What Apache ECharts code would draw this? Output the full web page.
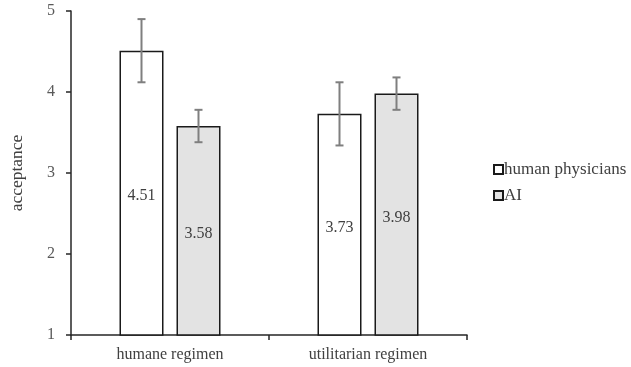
<!DOCTYPE html>
<html><head><meta charset="utf-8">
<script src="https://cdn.jsdelivr.net/npm/echarts@6/dist/echarts.min.js"></script>
<style>html,body{margin:0;padding:0;background:#fff}#c{width:631px;height:367px}</style>
</head><body><div id="c"></div>
<script>
const categories = ['humane regimen', 'utilitarian regimen'];
const seriesNames = ['human physicians', 'AI'];
const humanValues = [4.51, 3.73];
const aiValues = [3.58, 3.98];
const humanErr = [0.39, 0.39];
const aiErr = [0.20, 0.20];
const yTicks = [1, 2, 3, 4, 5];

const FONT = '"Liberation Serif", "Times New Roman", serif';
const BAR_W = 44;
const GAP = 13;
const chart = echarts.init(document.getElementById('c'), null, {renderer: 'canvas'});

function errSeries(vals, errs, dir) {
  return {
    type: 'custom',
    silent: true,
    z: 10,
    data: vals.map((v, i) => [i, v, errs[i]]),
    renderItem: function (params, api) {
      const i = api.value(0), v = api.value(1), e = api.value(2);
      const top = api.coord([i, v + e]);
      const bot = api.coord([i, v - e]);
      const x = top[0] + dir * (BAR_W + GAP) / 2;
      const cap = 4;
      const st = {stroke: '#7f7f7f', lineWidth: 2};
      return {type: 'group', children: [
        {type: 'line', shape: {x1: x, y1: top[1], x2: x, y2: bot[1]}, style: st},
        {type: 'line', shape: {x1: x - cap, y1: top[1], x2: x + cap, y2: top[1]}, style: st},
        {type: 'line', shape: {x1: x - cap, y1: bot[1], x2: x + cap, y2: bot[1]}, style: st}
      ]};
    }
  };
}

const labelStyle = {show: true, position: 'inside', offset: [0, 3], fontFamily: FONT, fontSize: 16, color: '#404040',
  formatter: p => p.value.toFixed(2)};

chart.setOption({
  animation: false,
  textStyle: {fontFamily: FONT},
  grid: {left: 69, right: 164, top: 11, bottom: 32, containLabel: false},
  legend: {
    orient: 'vertical', left: 488, top: 156, itemGap: 9,
    itemWidth: 9, itemHeight: 9, icon: 'rect',
    textStyle: {fontFamily: FONT, fontSize: 17, color: '#404040', padding: [0, 0, 0, -4]},
    data: seriesNames
  },
  xAxis: {
    type: 'category', data: categories, boundaryGap: true,
    axisLine: {lineStyle: {color: '#262626', width: 1.5}},
    axisTick: {show: true, length: 5, lineStyle: {color: '#262626', width: 1.5}},
    axisLabel: {fontFamily: FONT, fontSize: 16, color: '#404040', margin: 12}
  },
  yAxis: {
    type: 'value', min: 1, max: 5, interval: 1,
    name: 'acceptance', nameLocation: 'middle', nameGap: 45, nameRotate: 90,
    nameTextStyle: {fontFamily: FONT, fontSize: 17.5, color: '#404040'},
    splitLine: {show: false},
    axisLine: {show: true, lineStyle: {color: '#262626', width: 1.5}},
    axisTick: {show: true, length: 5, lineStyle: {color: '#262626', width: 1.5}},
    axisLabel: {fontFamily: FONT, fontSize: 16, color: '#595959', margin: 16,
      formatter: v => yTicks.includes(v) ? String(v) : ''}
  },
  series: [
    {name: seriesNames[0], type: 'bar', data: humanValues, barWidth: BAR_W, barGap: (GAP / BAR_W * 100) + '%',
      itemStyle: {color: '#ffffff', borderColor: '#1a1a1a', borderWidth: 1.5}, label: labelStyle},
    {name: seriesNames[1], type: 'bar', data: aiValues, barWidth: BAR_W,
      itemStyle: {color: '#e3e3e3', borderColor: '#1a1a1a', borderWidth: 1.5}, label: labelStyle},
    errSeries(humanValues, humanErr, -1),
    errSeries(aiValues, aiErr, 1)
  ]
});
</script></body></html>
